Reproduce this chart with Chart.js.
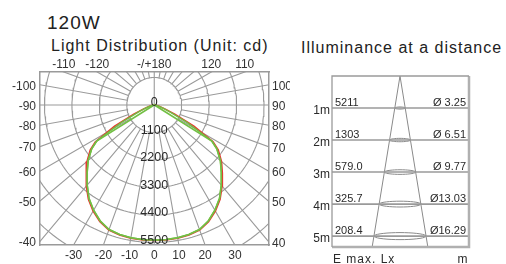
<!DOCTYPE html>
<html>
<head>
<meta charset="utf-8">
<script src="https://cdn.jsdelivr.net/npm/chart.js@4.4.1/dist/chart.umd.min.js"></script>
<style>
  html, body { margin: 0; padding: 0; background: #fff; }
  body { width: 506px; height: 264px; position: relative; overflow: hidden;
         font-family: "Liberation Sans", Arial, sans-serif; color: #222; }
  .title { position: absolute; white-space: nowrap; letter-spacing: 1px; line-height: 1; }
  #polarWrap { position: absolute; left: 0; top: 0; }
  #tableWrap { position: absolute; left: 296px; top: 60px; }
</style>
</head>
<body>
<div class="title" style="left:47px; top:13px; font-size:19px;">120W</div>
<div class="title" style="left:51px; top:38px; font-size:16px;">Light Distribution (Unit: cd)</div>
<div class="title" style="left:301px; top:40px; font-size:16px;">Illuminance at a distance</div>
<div id="polarWrap"><canvas id="polar" width="290" height="264"></canvas></div>
<div id="tableWrap"><canvas id="table" width="210" height="204"></canvas></div>
<script>
// polar diagram: angles in degrees from nadir, intensities in cd
const curveAngles = [0, 5, 10, 15, 20, 25, 30, 35, 40, 45, 50, 55, 58, 62, 66, 70, 75, 80, 85, 90];
const redCd    = [5420, 5420, 5410, 5380, 5320, 5150, 4900, 4600, 4230, 3860, 3520, 3130, 2780, 1800, 900, 450, 200, 80, 20, 0];
const greenCd  = [5400, 5400, 5390, 5360, 5300, 5120, 4860, 4560, 4180, 3800, 3460, 3060, 2720, 60, 30, 20, 10, 5, 0, 0];
const green2Cd = [5400, 5400, 5390, 5360, 5300, 5120, 4860, 4560, 4180, 3800, 3460, 3060, 2720, 1500, 700, 350, 150, 60, 20, 0];

const ringValues = [0, 1100, 2200, 3300, 4400, 5500];
const topAngles = [-110, -120, 180, 120, 110];
const topLabels = ['-110', '-120', '-/+180', '120', '110'];
const leftAngles = [-100, -90, -80, -70, -60, -50, -40];
const leftLabels = ['-100', '-90', '-80', '-70', '-60', '-50', '-40'];
const rightAngles = [100, 90, 80, 70, 60, 50, 40];
const rightLabels = ['100', '90', '80', '70', '60', '50', '40'];
const bottomAngles = [-30, -20, -10, 0, 10, 20, 30];
const bottomLabels = ['-30', '-20', '-10', '0', '10', '20', '30'];

// illuminance table
const distances = [1, 2, 3, 4, 5];
const eMaxLabels = ['5211', '1303', '579.0', '325.7', '208.4'];
const diameters = [3.25, 6.51, 9.77, 13.03, 16.29];
const diameterLabels = ['Ø 3.25', 'Ø 6.51', 'Ø 9.77', 'Ø13.03', 'Ø16.29'];

const FONT = '"Liberation Sans", Arial, sans-serif';
const GRID = '#9a9a9a';
const rad = Math.PI / 180;

// polar frame limits (cd)
const X_MIN = -4580, X_MAX = 4600, Y_MIN = -1320, Y_MAX = 5600;
const RING_STEP = 1100;

function polar(a, r) {
    return { x: r * Math.sin(a * rad), y: r * Math.cos(a * rad) };
}

function curve(vals) {
    let pts = [];
    for (let i = curveAngles.length - 1; i >= 0; i--) pts.push(polar(-curveAngles[i], vals[i]));
    for (let i = 1; i < curveAngles.length; i++) pts.push(polar(curveAngles[i], vals[i]));
    return pts;
}

function rings() {
    let pts = [];
    for (let v = RING_STEP; v <= RING_STEP * 6; v += RING_STEP) {
        for (let d = 0; d <= 360; d += 2) pts.push(polar(d, v));
        pts.push({ x: NaN, y: NaN });
    }
    return pts;
}

function spokes() {
    let pts = [];
    for (let a = 0; a < 360; a += 10) {
        let start = a % 90 === 0 ? 0 : RING_STEP;
        pts.push(polar(a, start), polar(a, 9000), { x: NaN, y: NaN });
    }
    return pts;
}

function line(data, color, width) {
    return { data: data, showLine: true, borderColor: color, borderWidth: width,
             pointRadius: 0, fill: false, clip: 0 };
}

function tickAxis(position, min, max, size, ticksFrom, labels, padding, offset) {
    return {
        type: 'linear', position: position, min: min, max: max,
        reverse: position === 'left' || position === 'right',
        grid: { display: false, drawTicks: false },
        border: { display: true, color: GRID, width: 1.5 },
        afterFit: s => { if (s.isHorizontal()) s.height = size; else s.width = size; },
        afterBuildTicks: s => { s.ticks = ticksFrom().map(v => ({ value: v })); },
        ticks: { autoSkip: false, maxRotation: 0, padding: padding, labelOffset: offset || 0,
                 color: '#333', font: { family: FONT, size: 12 },
                 callback: (v, i) => labels[i] }
    };
}

const ringLabelPlugin = {
    id: 'ringLabels',
    afterDatasetsDraw(chart) {
        const { ctx, scales } = chart;
        ctx.save();
        ctx.font = '12.5px ' + FONT;
        ctx.fillStyle = '#2a2a2a';
        ctx.textAlign = 'center';
        ctx.textBaseline = 'alphabetic';
        ringValues.forEach(v => {
            ctx.fillText(String(v), scales.x.getPixelForValue(0), scales.y.getPixelForValue(v) + 1);
        });
        ctx.restore();
    }
};

new Chart(document.getElementById('polar'), {
    type: 'scatter',
    data: {
        datasets: [
            line(curve(greenCd), '#72bf44', 1.6),
            line(curve(green2Cd), '#72bf44', 1.4),
            line(curve(redCd), '#e5392f', 1.6),
            line(spokes(), GRID, 1.1),
            line(rings(), GRID, 1.1)
        ]
    },
    options: {
        responsive: false,
        animation: false,
        layout: { padding: 0 },
        plugins: { legend: { display: false }, tooltip: { enabled: false } },
        scales: {
            x: tickAxis('bottom', X_MIN, X_MAX, 19,
                () => bottomAngles.map(a => Y_MAX * Math.tan(a * rad)), bottomLabels, 3),
            xTop: tickAxis('top', X_MIN, X_MAX, 72,
                () => topAngles.map(a => Y_MIN * Math.tan(a * rad)), topLabels, 0),
            y: tickAxis('left', Y_MIN, Y_MAX, 40,
                () => leftAngles.map(a => X_MIN / Math.tan(a * rad)), leftLabels, 4, 1.5),
            yRight: tickAxis('right', Y_MIN, Y_MAX, 21,
                () => rightAngles.map(a => X_MAX / Math.tan(a * rad)), rightLabels, 3, 1.5)
        }
    },
    plugins: [ringLabelPlugin]
});

// ---- illuminance table ----
const T_XMIN = -21.25, T_XMAX = 21.56, T_YMAX = 5.34;
const spread = diameters[diameters.length - 1] / 2 / distances[distances.length - 1];

function tableBox() {
    return [{ x: T_XMAX, y: 0 }, { x: T_XMIN, y: 0 }, { x: T_XMIN, y: T_YMAX }];
}
function tableBoxOuter() {
    return [{ x: T_XMAX, y: 0 }, { x: T_XMAX, y: T_YMAX }, { x: T_XMIN, y: T_YMAX }];
}
function rowLines() {
    let pts = [];
    distances.forEach(d => pts.push({ x: T_XMIN, y: d }, { x: T_XMAX, y: d }, { x: NaN, y: NaN }));
    return pts;
}
function cone() {
    return [{ x: -spread * T_YMAX, y: T_YMAX }, { x: 0, y: 0 }, { x: spread * T_YMAX, y: T_YMAX }];
}
function ellipses() {
    let pts = [];
    distances.forEach((d, i) => {
        let hh = 0.015 + 0.019 * d;
        for (let t = 0; t <= 360; t += 10) {
            pts.push({ x: diameters[i] / 2 * Math.cos(t * rad), y: d + hh * Math.sin(t * rad) });
        }
        pts.push({ x: NaN, y: NaN });
    });
    return pts;
}

const tableTextPlugin = {
    id: 'tableText',
    afterDatasetsDraw(chart) {
        const { ctx, chartArea, scales } = chart;
        ctx.save();
        ctx.fillStyle = '#2a2a2a';
        ctx.textBaseline = 'alphabetic';
        distances.forEach((d, i) => {
            const y = scales.y.getPixelForValue(d);
            ctx.font = '12px ' + FONT;
            ctx.textAlign = 'right';
            ctx.fillText(d + 'm', chartArea.left - 2, y + 5.5);
            ctx.font = '11px ' + FONT;
            ctx.textAlign = 'left';
            ctx.fillText(eMaxLabels[i], chartArea.left + 3, y - 2);
            ctx.textAlign = 'right';
            ctx.fillText(diameterLabels[i], chartArea.right - 3, y - 2);
        });
        ctx.font = '12px ' + FONT;
        ctx.letterSpacing = '1px';
        ctx.textAlign = 'left';
        ctx.fillText('E max. Lx', chartArea.left + 1, chartArea.bottom + 16);
        ctx.textAlign = 'center';
        ctx.fillText('m', chartArea.right - 6, chartArea.bottom + 16);
        ctx.restore();
    }
};

new Chart(document.getElementById('table'), {
    type: 'scatter',
    data: {
        datasets: [
            line(tableBox(), GRID, 1.3),
            line(tableBoxOuter(), '#b0b0b0', 2.5),
            line(rowLines(), GRID, 1.6),
            line(cone(), '#8a8a8a', 1),
            line(ellipses(), '#8a8a8a', 1)
        ].map(ds => Object.assign(ds, { clip: false }))
    },
    options: {
        responsive: false,
        animation: false,
        layout: { padding: { left: 36, right: 37, top: 16, bottom: 17 } },
        plugins: { legend: { display: false }, tooltip: { enabled: false } },
        scales: {
            x: { type: 'linear', display: false, min: T_XMIN, max: T_XMAX },
            y: { type: 'linear', display: false, min: 0, max: T_YMAX, reverse: true }
        }
    },
    plugins: [tableTextPlugin]
});
</script>
</body>
</html>
